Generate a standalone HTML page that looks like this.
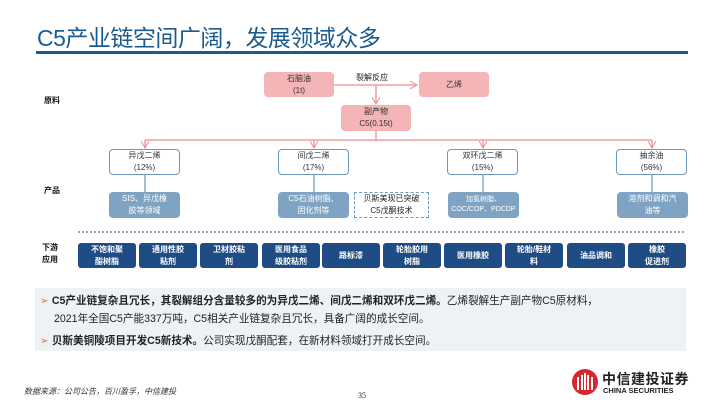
<!DOCTYPE html>
<html><head><meta charset="utf-8"><style>
*{margin:0;padding:0;box-sizing:border-box}
body{width:720px;height:405px;background:#fff;position:relative;overflow:hidden;font-family:"Liberation Sans","Noto Sans CJK SC",sans-serif;color:#222}
.a{position:absolute}
.c{display:flex;align-items:center;justify-content:center;text-align:center;line-height:1.45}
.pk{background:#f5b4b6;border-radius:4px;font-size:8px;color:#333}
.bl{background:#fff;border:1px solid #6e97bd;border-radius:4px;font-size:8px;color:#333}
.pr{background:#7fa4c3;border-radius:4px;font-size:8px;color:#fff}
.dn{background:#1f4c84;border-radius:3px;font-size:8px;color:#fff;font-weight:bold;top:243px;height:25px;width:58px}
.lb{font-size:8px;font-weight:bold;color:#111}
</style></head><body>
<div class="a" style="left:37px;top:19px;font-size:23px;color:#1b5b8f;letter-spacing:-0.5px">C5产业链空间广阔，发展领域众多</div>
<div class="a" style="left:36px;top:51px;width:652px;height:3px;background:#1b5b8f"></div>

<div class="a lb" style="left:44px;top:95px">原料</div>
<div class="a lb" style="left:44px;top:185px">产品</div>
<div class="a lb" style="left:42px;top:242px;line-height:1.5">下游<br>应用</div>

<svg class="a" style="left:0;top:0" width="720" height="405">
<defs><marker id="m" markerWidth="8" markerHeight="8" refX="7" refY="4" orient="auto" markerUnits="userSpaceOnUse"><path d="M0,0 L7,4 L0,8" fill="none" stroke="#f08b8b" stroke-width="1"/></marker></defs>
<g stroke="#f08b8b" stroke-width="1.3" fill="none">
<line x1="333" y1="85" x2="417" y2="85" marker-end="url(#m)"/>
<line x1="376" y1="85" x2="376" y2="104" marker-end="url(#m)"/>
<line x1="376" y1="131" x2="376" y2="140"/>
<line x1="145" y1="140" x2="652" y2="140"/>
<line x1="145" y1="140" x2="145" y2="148" marker-end="url(#m)"/>
<line x1="314" y1="140" x2="314" y2="148" marker-end="url(#m)"/>
<line x1="483" y1="140" x2="483" y2="148" marker-end="url(#m)"/>
<line x1="652" y1="140" x2="652" y2="148" marker-end="url(#m)"/>
</g>
<g stroke="#4f7fae" stroke-width="1">
<line x1="145" y1="175" x2="145" y2="192"/><line x1="314" y1="175" x2="314" y2="192"/>
<line x1="483" y1="175" x2="483" y2="192"/><line x1="652" y1="175" x2="652" y2="192"/>
</g>
<line x1="78" y1="232" x2="685" y2="232" stroke="#1f4c84" stroke-width="1" stroke-dasharray="2,2"/>
</svg>
<div class="a" style="left:356px;top:72px;font-size:8px">裂解反应</div>
<div class="a c pk" style="left:264px;top:72px;width:70px;height:25px">石脑油<br>(1t)</div>
<div class="a c pk" style="left:419px;top:72px;width:70px;height:25px">乙烯</div>
<div class="a c pk" style="left:341px;top:105px;width:70px;height:26px">副产物<br>C5(0.15t)</div>

<div class="a c bl" style="left:109px;top:149px;width:71px;height:26px">异戊二烯<br>(12%)</div>
<div class="a c bl" style="left:278px;top:149px;width:71px;height:26px">间戊二烯<br>(17%)</div>
<div class="a c bl" style="left:447px;top:149px;width:71px;height:26px">双环戊二烯<br>(15%)</div>
<div class="a c bl" style="left:616px;top:149px;width:71px;height:26px">抽余油<br>(56%)</div>

<div class="a c pr" style="left:109px;top:192px;width:71px;height:26px">SIS、异戊橡<br>胶等领域</div>
<div class="a c pr" style="left:278px;top:192px;width:71px;height:26px">C5石油树脂、<br>固化剂等</div>
<div class="a c" style="left:354px;top:192px;width:75px;height:26px;border:1.5px dashed #6e97bd;font-size:8px">贝斯美现已突破<br>C5戊酮技术</div>
<div class="a c pr" style="left:448px;top:192px;width:71px;height:26px;font-size:7px">加氢树脂、<br>COC/COP、PDCDP</div>
<div class="a c pr" style="left:617px;top:192px;width:71px;height:26px">溶剂和调和汽<br>油等</div>

<div class="a c dn" style="left:78px">不饱和聚<br>酯树脂</div>
<div class="a c dn" style="left:139px">通用性胶<br>粘剂</div>
<div class="a c dn" style="left:200px">卫材胶粘<br>剂</div>
<div class="a c dn" style="left:262px">医用食品<br>级胶粘剂</div>
<div class="a c dn" style="left:322px">路标漆</div>
<div class="a c dn" style="left:383px">轮胎胶用<br>树脂</div>
<div class="a c dn" style="left:444px">医用橡胶</div>
<div class="a c dn" style="left:505px">轮胎/鞋材<br>料</div>
<div class="a c dn" style="left:567px">油品调和</div>
<div class="a c dn" style="left:628px">橡胶<br>促进剂</div>

<div class="a" style="left:35px;top:288px;width:651px;height:63px;background:#eef2f5"></div>
<div class="a" style="left:40px;top:292px;font-size:10.6px;line-height:18px;width:650px;white-space:nowrap">
<div><span style="color:#e8782c">➢</span> <b>C5产业链复杂且冗长，其裂解组分含量较多的为异戊二烯、间戊二烯和双环戊二烯。</b>乙烯裂解生产副产物C5原材料，</div>
<div style="padding-left:14px">2021年全国C5产能337万吨，C5相关产业链复杂且冗长，具备广阔的成长空间。</div>
<div style="margin-top:4px"><span style="color:#e8782c">➢</span> <b>贝斯美铜陵项目开发C5新技术。</b>公司实现戊酮配套，在新材料领域打开成长空间。</div>
</div>

<div class="a" style="left:24px;top:386px;font-size:8px;font-style:italic;color:#333">数据来源：公司公告，百川盈孚，中信建投</div>
<div class="a" style="left:358px;top:391px;font-size:8px;font-family:'Liberation Serif',serif">35</div>
<svg class="a" style="left:571px;top:368px" width="28" height="28"><circle cx="14" cy="14" r="13" fill="#d7262d"/><g stroke="#fff" stroke-width="2" fill="none"><path d="M7,22 V9 M11,22 V7 M14,22 V5 M17,22 V7 M21,22 V9"/></g></svg>
<div class="a" style="left:602px;top:369px;font-size:14px;font-weight:bold;color:#222;letter-spacing:0.5px">中信建投证券</div>
<div class="a" style="left:603px;top:386px;font-size:7.5px;font-weight:bold;color:#222">CHINA SECURITIES</div>
</body></html>
